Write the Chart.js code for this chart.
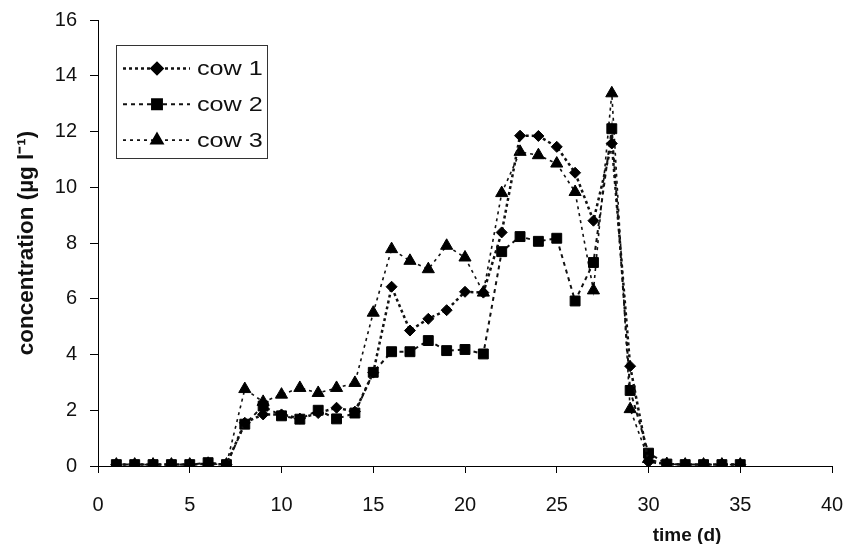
<!DOCTYPE html>
<html>
<head>
<meta charset="utf-8">
<script src="https://cdn.jsdelivr.net/npm/chart.js@4.4.1/dist/chart.umd.min.js"></script>
<style>
  html, body { margin: 0; padding: 0; background: #fff; }
  #wrap { width: 849px; height: 544px; }
</style>
</head>
<body>
<div id="wrap"><canvas id="chart"></canvas></div>
<script>
// days sampled (x axis)
const days = [1,2,3,4,5,6,7,8,9,10,11,12,13,14,15,16,17,18,19,20,21,22,23,24,25,26,27,28,29,30,31,32,33,34,35];

// concentration (ug/l)
const cow1 = [0.05,0.05,0.05,0.05,0.05,0.08,0.05,1.55,1.85,1.85,1.7,1.9,2.09,1.95,3.35,6.43,4.86,5.28,5.59,6.25,6.22,8.38,11.85,11.84,11.45,10.52,8.8,11.57,3.58,0.15,0.07,0.05,0.05,0.05,0.05];
const cow2 = [0.05,0.05,0.05,0.05,0.05,0.12,0.05,1.5,2.15,1.8,1.68,2.0,1.69,1.9,3.36,4.1,4.1,4.5,4.14,4.18,4.02,7.69,8.23,8.06,8.17,5.92,7.3,12.1,2.71,0.46,0.07,0.05,0.05,0.05,0.05];
const cow3 = [0.05,0.05,0.05,0.05,0.05,0.08,0.05,2.76,2.3,2.56,2.8,2.62,2.8,2.98,5.5,7.78,7.36,7.06,7.9,7.48,6.22,9.79,11.27,11.15,10.85,9.83,6.3,13.37,2.04,0.25,0.07,0.05,0.05,0.05,0.05];

const xTicks = [0,5,10,15,20,25,30,35,40];
const yTicks = [0,2,4,6,8,10,12,14,16];

const toPoints = vals => vals.map((v, i) => ({ x: days[i], y: v }));

// legend drawn inside the plot with a box round it
const boxLegend = {
  id: 'boxLegend',
  afterDraw(chart) {
    const ctx = chart.ctx;
    const bx = 116, by = 45, bw = 151, bh = 113;
    ctx.save();
    ctx.strokeStyle = '#333';
    ctx.lineWidth = 1;
    ctx.setLineDash([]);
    ctx.strokeRect(bx + 0.5, by + 0.5, bw, bh);
    chart.data.datasets.forEach((ds, i) => {
      const y = 68.5 + i * 35.8;
      ctx.beginPath();
      ctx.strokeStyle = ds.borderColor;
      ctx.lineWidth = ds.borderWidth;
      ctx.setLineDash(ds.borderDash);
      ctx.moveTo(123, y);
      ctx.lineTo(190, y);
      ctx.stroke();
      ctx.setLineDash([]);
      ctx.fillStyle = ds.pointBackgroundColor;
      ctx.strokeStyle = ds.pointBorderColor;
      Chart.helpers.drawPoint(ctx, {
        pointStyle: ds.pointStyle,
        radius: ds.pointRadius,
        borderWidth: 1,
        rotation: 0
      }, 157, y);
      // text in the original is a little wide
      ctx.save();
      ctx.translate(197, y + 1);
      ctx.scale(1.2, 1);
      ctx.fillStyle = '#111';
      ctx.font = '21px "Liberation Sans", Arial, sans-serif';
      ctx.textBaseline = 'middle';
      ctx.textAlign = 'left';
      ctx.fillText(ds.label, 0, 0);
      ctx.restore();
    });
    ctx.restore();
  }
};

// x axis title sits toward the right end
const xTitle = {
  id: 'xTitle',
  afterDraw(chart) {
    const ctx = chart.ctx;
    const xs = chart.scales.x;
    ctx.save();
    ctx.fillStyle = '#111';
    ctx.font = 'bold 19px "Liberation Sans", Arial, sans-serif';
    ctx.textAlign = 'center';
    ctx.textBaseline = 'middle';
    ctx.fillText('time (d)', xs.getPixelForValue(32.1), 536);
    ctx.restore();
  }
};

const ds = (label, vals, style, radius, dash, width) => ({
  label: label,
  data: toPoints(vals),
  borderColor: '#111',
  borderWidth: width,
  borderDash: dash,
  pointStyle: style,
  pointRadius: radius,
  pointHoverRadius: radius,
  pointBackgroundColor: '#000',
  pointBorderColor: '#000',
  pointBorderWidth: 1,
  tension: 0,
  fill: false
});

new Chart(document.getElementById('chart'), {
  type: 'line',
  data: {
    datasets: [
      ds('cow 1', cow1, 'rectRot', 5.5, [3, 3], 2.5),
      ds('cow 2', cow2, 'rect', 7, [4, 4], 2),
      ds('cow 3', cow3, 'triangle', 7, [3, 4], 1.6)
    ]
  },
  options: {
    responsive: true,
    maintainAspectRatio: false,
    animation: false,
    layout: { padding: { left: 0, right: 17, top: 20, bottom: 0 } },
    plugins: {
      legend: { display: false },
      tooltip: { enabled: false }
    },
    scales: {
      x: {
        type: 'linear',
        min: 0,
        max: 40,
        afterFit: s => { s.height = 78; s.paddingLeft = 0; s.paddingRight = 0; },
        afterBuildTicks: s => { s.ticks = xTicks.map(v => ({ value: v })); },
        grid: { drawOnChartArea: false, drawTicks: true, tickLength: 7, color: '#000' },
        border: { display: true, color: '#000', width: 1 },
        ticks: {
          color: '#111',
          padding: 20,
          maxRotation: 0,
          font: { size: 20, family: '"Liberation Sans", Arial, sans-serif' }
        }
      },
      y: {
        min: 0,
        max: 16,
        afterFit: s => { s.width = 98; s.paddingTop = 0; s.paddingBottom = 0; },
        afterBuildTicks: s => { s.ticks = yTicks.map(v => ({ value: v })); },
        grid: { drawOnChartArea: false, drawTicks: true, tickLength: 8, color: '#000' },
        border: { display: true, color: '#000', width: 1 },
        ticks: {
          color: '#111',
          padding: 13,
          font: { size: 20, family: '"Liberation Sans", Arial, sans-serif' }
        },
        title: {
          display: true,
          text: 'concentration (µg l⁻¹)',
          color: '#111',
          padding: { top: 13, bottom: 0 },
          font: { size: 22.5, weight: 'bold', family: '"Liberation Sans", Arial, sans-serif' }
        }
      }
    }
  },
  plugins: [boxLegend, xTitle]
});
</script>
</body>
</html>
